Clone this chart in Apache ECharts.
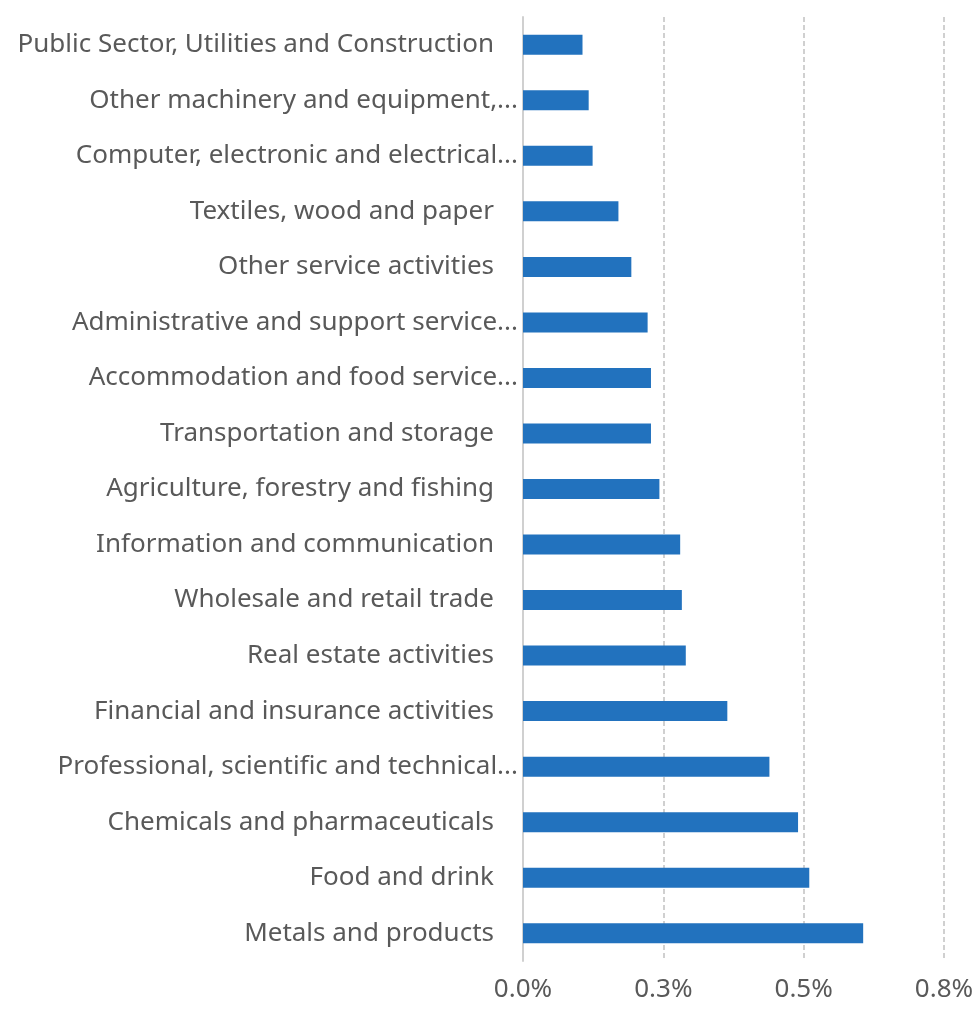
<!DOCTYPE html>
<html>
<head>
<meta charset="utf-8">
<script src="https://cdn.jsdelivr.net/npm/echarts@6/dist/echarts.min.js"></script>
<style>
  html, body { margin: 0; padding: 0; background: #fff; }
  #chart { width: 977px; height: 1012px; }
</style>
</head>
<body>
<div id="chart"></div>
<script>
// Sectors, listed top to bottom
const sectors = [
  'Public Sector, Utilities and Construction',
  'Other machinery and equipment,...',
  'Computer, electronic and electrical...',
  'Textiles, wood and paper',
  'Other service activities',
  'Administrative and support service...',
  'Accommodation and food service...',
  'Transportation and storage',
  'Agriculture, forestry and fishing',
  'Information and communication',
  'Wholesale and retail trade',
  'Real estate activities',
  'Financial and insurance activities',
  'Professional, scientific and technical...',
  'Chemicals and pharmaceuticals',
  'Food and drink',
  'Metals and products'
];

// Share per sector, in percent
const shares = [
  0.106, 0.117, 0.124, 0.170, 0.193, 0.222, 0.228, 0.228, 0.243,
  0.280, 0.283, 0.290, 0.364, 0.439, 0.490, 0.510, 0.606
];

// Value axis range and step, in percent
const axisMin = 0;
const axisMax = 0.75;
const axisStep = 0.25;

const FONT = '"Noto Sans", sans-serif';
const TEXT = '#595959';
const LINE = '#d0d0d0';
const SIZE = 26;

const chart = echarts.init(document.getElementById('chart'), null, { renderer: 'canvas' });
chart.setOption({
  animation: false,
  textStyle: { fontFamily: FONT },
  grid: { left: 523, right: 33, top: 17, bottom: 51, containLabel: false },
  xAxis: {
    type: 'value',
    min: axisMin,
    max: axisMax,
    interval: axisStep,
    axisLine: { show: false },
    axisTick: { show: false },
    splitLine: {
      show: true,
      showMinLine: false,
      lineStyle: { color: LINE, type: [5, 3], width: 2 }
    },
    axisLabel: {
      color: TEXT,
      fontSize: SIZE,
      fontFamily: FONT,
      margin: 16,
      formatter: v => v.toFixed(1) + '%'
    }
  },
  yAxis: {
    type: 'category',
    data: sectors,
    inverse: true,
    axisLine: { show: true, lineStyle: { color: LINE, width: 2 } },
    axisTick: { show: false },
    splitLine: { show: false },
    axisLabel: {
      color: TEXT,
      fontSize: SIZE,
      fontFamily: FONT,
      margin: 5,
      formatter: name => name.endsWith('...') ? '{t|' + name + '}' : '{n|' + name + '}',
      rich: {
        n: { color: TEXT, fontSize: SIZE, fontFamily: FONT, padding: [0, 24, 0, 0] },
        t: { color: TEXT, fontSize: SIZE, fontFamily: FONT }
      }
    }
  },
  series: [{
    type: 'bar',
    data: shares,
    barCategoryGap: '64%',
    itemStyle: { color: '#2272BE' }
  }]
});
</script>
</body>
</html>
